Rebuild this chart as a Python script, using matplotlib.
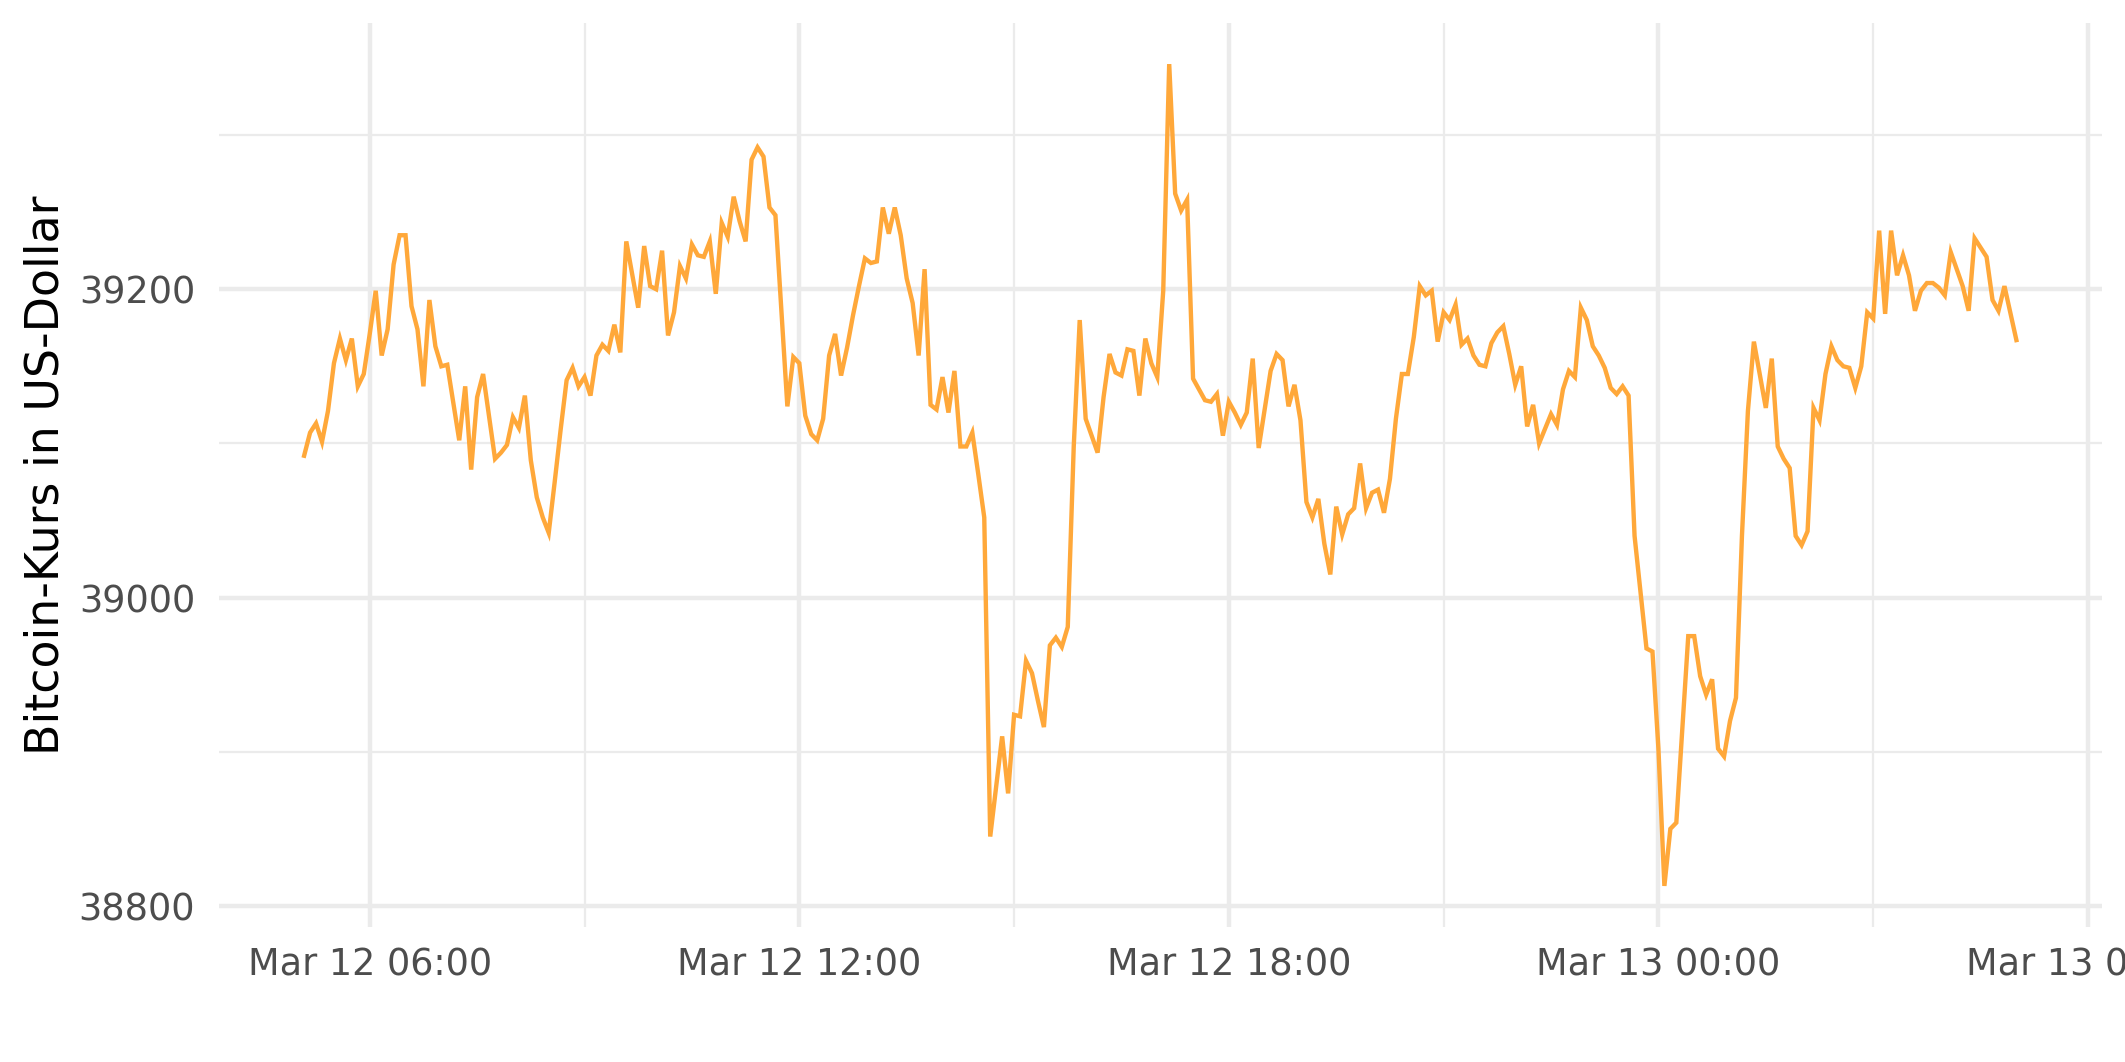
import matplotlib
matplotlib.use("Agg")
import matplotlib.pyplot as plt
import matplotlib.dates as mdates
import pandas as pd

# ---------------- data (5-minute Bitcoin prices) ----------------
start_day = "2022-03-12 00:00"
# minutes after Mar 12 00:00
minutes = [
    305, 310, 315, 320, 325, 330, 335, 340, 345, 350, 355, 360, 365, 370, 375, 380,
    385, 390, 395, 400, 405, 410, 415, 420, 425, 435, 440, 445, 450, 455, 465, 470,
    475, 480, 485, 490, 495, 500, 505, 510, 515, 520, 525, 530, 535, 540, 545, 550,
    555, 560, 565, 570, 575, 585, 590, 595, 600, 605, 610, 615, 620, 625, 630, 635,
    640, 645, 650, 655, 660, 665, 670, 675, 680, 685, 690, 695, 700, 710, 715, 720,
    725, 730, 735, 740, 745, 750, 755, 760, 765, 770, 775, 780, 785, 790, 795, 800,
    805, 810, 815, 820, 825, 830, 835, 840, 845, 850, 855, 860, 865, 870, 875, 880,
    890, 895, 900, 905, 910, 915, 920, 925, 930, 935, 940, 945, 950, 955, 960, 970,
    975, 980, 985, 990, 995, 1000, 1005, 1010, 1015, 1020, 1025, 1030, 1035, 1040, 1045, 1050,
    1055, 1060, 1065, 1070, 1075, 1080, 1085, 1090, 1095, 1100, 1105, 1110, 1115, 1120, 1125, 1130,
    1135, 1140, 1145, 1150, 1155, 1160, 1165, 1170, 1175, 1180, 1185, 1190, 1195, 1200, 1205, 1210,
    1215, 1220, 1225, 1230, 1235, 1240, 1245, 1250, 1255, 1260, 1265, 1270, 1275, 1280, 1285, 1290,
    1295, 1300, 1305, 1310, 1315, 1320, 1325, 1330, 1335, 1340, 1350, 1355, 1360, 1365, 1370, 1375,
    1380, 1385, 1390, 1395, 1400, 1405, 1410, 1415, 1420, 1430, 1435, 1440, 1445, 1450, 1455, 1465,
    1470, 1475, 1480, 1485, 1490, 1495, 1500, 1505, 1510, 1515, 1520, 1530, 1535, 1540, 1545, 1550,
    1555, 1560, 1565, 1570, 1575, 1580, 1585, 1590, 1595, 1600, 1605, 1610, 1615, 1620, 1625, 1630,
    1635, 1640, 1645, 1650, 1655, 1660, 1665, 1670, 1675, 1680, 1685, 1690, 1695, 1700, 1705, 1710,
    1715, 1720, 1725, 1730, 1740,
]
price = [
    39092, 39107, 39113, 39101, 39121, 39152, 39168, 39154, 39168, 39137, 39145, 39171, 39199, 39157, 39174, 39216,
    39235, 39235, 39189, 39174, 39137, 39193, 39163, 39150, 39151, 39102, 39137, 39083, 39130, 39145, 39090, 39094,
    39099, 39117, 39110, 39131, 39089, 39065, 39052, 39042, 39075, 39109, 39141, 39149, 39137, 39143, 39131, 39157,
    39164, 39160, 39177, 39159, 39231, 39188, 39228, 39202, 39200, 39225, 39170, 39185, 39215, 39207, 39229, 39222,
    39221, 39231, 39197, 39243, 39234, 39260, 39244, 39231, 39284, 39292, 39286, 39253, 39248, 39124, 39156, 39152,
    39118, 39106, 39102, 39116, 39157, 39171, 39144, 39162, 39183, 39202, 39220, 39217, 39218, 39253, 39236, 39253,
    39235, 39207, 39191, 39157, 39213, 39125, 39122, 39143, 39120, 39147, 39098, 39098, 39107, 39080, 39052, 38845,
    38910, 38873, 38924, 38923, 38959, 38951, 38933, 38916, 38969, 38974, 38968, 38981, 39098, 39180, 39116, 39094,
    39130, 39158, 39146, 39144, 39161, 39160, 39131, 39168, 39152, 39143, 39199, 39346, 39262, 39251, 39258, 39142,
    39135, 39128, 39127, 39132, 39105, 39127, 39120, 39112, 39120, 39155, 39097, 39122, 39147, 39158, 39154, 39124,
    39138, 39115, 39062, 39052, 39064, 39035, 39015, 39059, 39041, 39054, 39058, 39087, 39058, 39068, 39070, 39055,
    39077, 39116, 39145, 39145, 39169, 39202, 39196, 39199, 39166, 39185, 39180, 39190, 39164, 39168, 39157, 39151,
    39150, 39165, 39172, 39176, 39158, 39138, 39150, 39111, 39125, 39100, 39119, 39112, 39135, 39147, 39143, 39188,
    39180, 39163, 39157, 39149, 39136, 39132, 39137, 39131, 39040, 38967, 38965, 38902, 38813, 38850, 38854, 38975,
    38975, 38949, 38937, 38947, 38902, 38897, 38920, 38935, 39040, 39121, 39166, 39123, 39155, 39098, 39090, 39084,
    39040, 39034, 39043, 39123, 39115, 39145, 39163, 39154, 39150, 39149, 39136, 39150, 39185, 39181, 39238, 39184,
    39238, 39209, 39222, 39209, 39186, 39199, 39204, 39204, 39201, 39196, 39224, 39213, 39202, 39186, 39233, 39227,
    39221, 39193, 39186, 39202, 39167,
]
y_major = [38800, 39000, 39200]
y_minor = [38900, 39100, 39300]
y_title = "Bitcoin-Kurs in US-Dollar"

# ---------------- figure ----------------
times = pd.Timestamp(start_day) + pd.to_timedelta(minutes, unit="m")

W, H, DPI = 2125, 1062, 300
fig = plt.figure(figsize=(W / DPI, H / DPI), dpi=DPI)
ax = fig.add_axes([218.5 / W, 1 - 927 / H, (2102 - 218.5) / W, (927 - 23) / H])

ax.plot(times, price, color="#FFA83A", linewidth=1.05, solid_joinstyle="miter", zorder=3)

# ggplot-like 5% expansion
xn = mdates.date2num(times)
xr = xn.max() - xn.min()
ax.set_xlim(xn.min() - 0.05 * xr, xn.max() + 0.05 * xr)
yr = max(price) - min(price)
ax.set_ylim(min(price) - 0.05 * yr, max(price) + 0.05 * yr)

ax.xaxis.set_major_locator(mdates.HourLocator(byhour=[0, 6, 12, 18]))
ax.xaxis.set_minor_locator(mdates.HourLocator(byhour=[3, 9, 15, 21]))
ax.xaxis.set_major_formatter(mdates.DateFormatter("%b %d %H:%M"))
ax.set_yticks(y_major)
ax.set_yticks(y_minor, minor=True)

grid_col = "#EBEBEB"
ax.set_axisbelow(True)
ax.grid(which="major", color=grid_col, linewidth=1.07)
ax.grid(which="minor", color=grid_col, linewidth=0.53)
for s in ax.spines.values():
    s.set_visible(False)

ax.tick_params(axis="both", which="both", length=0)
ax.tick_params(axis="x", which="major", labelsize=8.8, labelcolor="#4D4D4D", pad=4.6)
ax.tick_params(axis="y", which="major", labelsize=8.8, labelcolor="#4D4D4D", pad=5.6)
for lab in ax.get_xticklabels() + ax.get_yticklabels():
    lab.set_fontfamily("DejaVu Sans")

ax.set_ylabel(y_title, fontsize=11, color="black")
ax.yaxis.set_label_coords((69 - 218.5) / (2102 - 218.5), 0.5)
ax.set_xlabel("")

fig.savefig("out.png", dpi=DPI, facecolor="white")
